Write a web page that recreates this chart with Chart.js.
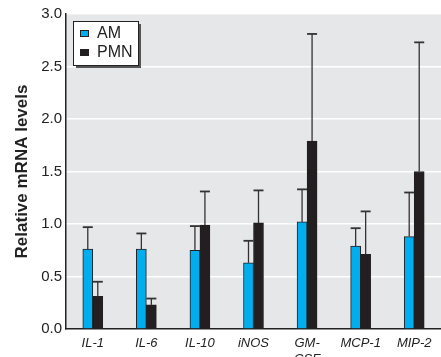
<!DOCTYPE html>
<html lang="en">
<head>
    <meta charset="UTF-8">
    <title>Relative mRNA levels</title>
    <script src="https://cdn.jsdelivr.net/npm/chart.js"></script>
    <style>
        body {
            margin: 0;
            padding: 0;
            background: #fff;
        }
        .wrap {
            width: 441px;
            height: 357px;
        }
    </style>
</head>
<body>
    <div class="wrap">
        <canvas id="chart" width="441" height="357"></canvas>
    </div>
    <script>
        // data
        const categories = ['IL-1', 'IL-6', 'IL-10', 'iNOS', ['GM-', 'CSF'], 'MCP-1', 'MIP-2'];
        const amValues = [0.76, 0.76, 0.75, 0.63, 1.02, 0.79, 0.88];
        const amErr = [0.21, 0.15, 0.23, 0.21, 0.31, 0.17, 0.42];
        const pmnValues = [0.31, 0.23, 0.99, 1.01, 1.79, 0.71, 1.50];
        const pmnErr = [0.14, 0.06, 0.32, 0.31, 1.02, 0.41, 1.23];
        const yTicks = ['0.0', '0.5', '1.0', '1.5', '2.0', '2.5', '3.0'];

        const errors = [amErr, pmnErr];

        // grey plot background
        const plotBg = {
            id: 'plotBg',
            beforeDraw(chart) {
                const { ctx, chartArea: a } = chart;
                ctx.save();
                ctx.fillStyle = '#e6e7e9';
                ctx.fillRect(a.left, a.top, a.right - a.left, a.bottom - a.top);
                ctx.restore();
            }
        };

        // upward error bars only
        const errorBars = {
            id: 'errorBars',
            afterDatasetsDraw(chart) {
                const ctx = chart.ctx;
                const y = chart.scales.y;
                ctx.save();
                ctx.strokeStyle = '#333';
                chart.data.datasets.forEach((ds, i) => {
                    const meta = chart.getDatasetMeta(i);
                    meta.data.forEach((bar, j) => {
                        const top = y.getPixelForValue(ds.data[j] + errors[i][j]);
                        ctx.lineWidth = 1.3;
                        ctx.beginPath();
                        ctx.moveTo(bar.x, bar.y);
                        ctx.lineTo(bar.x, top);
                        ctx.stroke();
                        ctx.lineWidth = 1.8;
                        ctx.beginPath();
                        ctx.moveTo(bar.x - 5, top);
                        ctx.lineTo(bar.x + 5, top);
                        ctx.stroke();
                    });
                });
                ctx.restore();
            }
        };

        // boxed legend inside the plot, top left
        const boxLegend = {
            id: 'boxLegend',
            afterDraw(chart) {
                const ctx = chart.ctx;
                const x = 73, yy = 21, w = 65, h = 44;
                ctx.save();
                ctx.fillStyle = '#555';
                ctx.fillRect(x + 3, yy + 3, w, h);
                ctx.fillStyle = '#fff';
                ctx.fillRect(x, yy, w, h);
                ctx.strokeStyle = '#222';
                ctx.lineWidth = 1;
                ctx.strokeRect(x + 0.5, yy + 0.5, w, h);
                ctx.font = '16px "Liberation Sans", Arial, sans-serif';
                ctx.textBaseline = 'middle';
                chart.data.datasets.forEach((ds, i) => {
                    const cy = yy + 12 + i * 19;
                    ctx.fillStyle = ds.backgroundColor;
                    ctx.fillRect(x + 7, cy - 3, 9, 7);
                    ctx.strokeStyle = '#222';
                    ctx.strokeRect(x + 7.5, cy - 2.5, 8, 6);
                    ctx.fillStyle = '#222';
                    ctx.fillText(ds.label, x + 24, cy + 1);
                });
                ctx.restore();
            }
        };

        new Chart(document.getElementById('chart').getContext('2d'), {
            type: 'bar',
            data: {
                labels: categories,
                datasets: [
                    {
                        label: 'AM',
                        data: amValues,
                        backgroundColor: '#00aeef',
                        borderColor: '#231f20',
                        borderWidth: 1,
                        barThickness: 10
                    },
                    {
                        label: 'PMN',
                        data: pmnValues,
                        backgroundColor: '#231f20',
                        borderColor: '#231f20',
                        borderWidth: 1,
                        barThickness: 10
                    }
                ]
            },
            options: {
                responsive: false,
                animation: false,
                layout: { padding: { top: 14, right: 0, left: 0, bottom: 0 } },
                plugins: {
                    legend: { display: false },
                    tooltip: { enabled: false }
                },
                scales: {
                    x: {
                        grid: { display: false, drawTicks: false },
                        border: { color: '#222', width: 1.5 },
                        ticks: {
                            color: '#222',
                            padding: 7,
                            maxRotation: 0,
                            autoSkip: false,
                            font: { family: '"Liberation Sans", Arial, sans-serif', size: 13, style: 'italic' }
                        },
                        afterFit(scale) { scale.height = 28; }
                    },
                    y: {
                        min: 0,
                        max: 3,
                        grid: { color: '#ffffff', lineWidth: 1.5, drawTicks: false },
                        border: { color: '#222', width: 1.5 },
                        ticks: {
                            stepSize: 0.5,
                            color: '#222',
                            padding: 4,
                            font: { family: '"Liberation Sans", Arial, sans-serif', size: 15 },
                            callback: (v, i) => yTicks[i]
                        },
                        title: {
                            display: true,
                            text: 'Relative mRNA levels',
                            color: '#222',
                            padding: { top: 12, bottom: 0 },
                            font: { family: '"Liberation Sans", Arial, sans-serif', size: 17, weight: 'bold' }
                        },
                        afterFit(scale) { scale.width = 66; }
                    }
                }
            },
            plugins: [plotBg, errorBars, boxLegend]
        });
    </script>
</body>
</html>
